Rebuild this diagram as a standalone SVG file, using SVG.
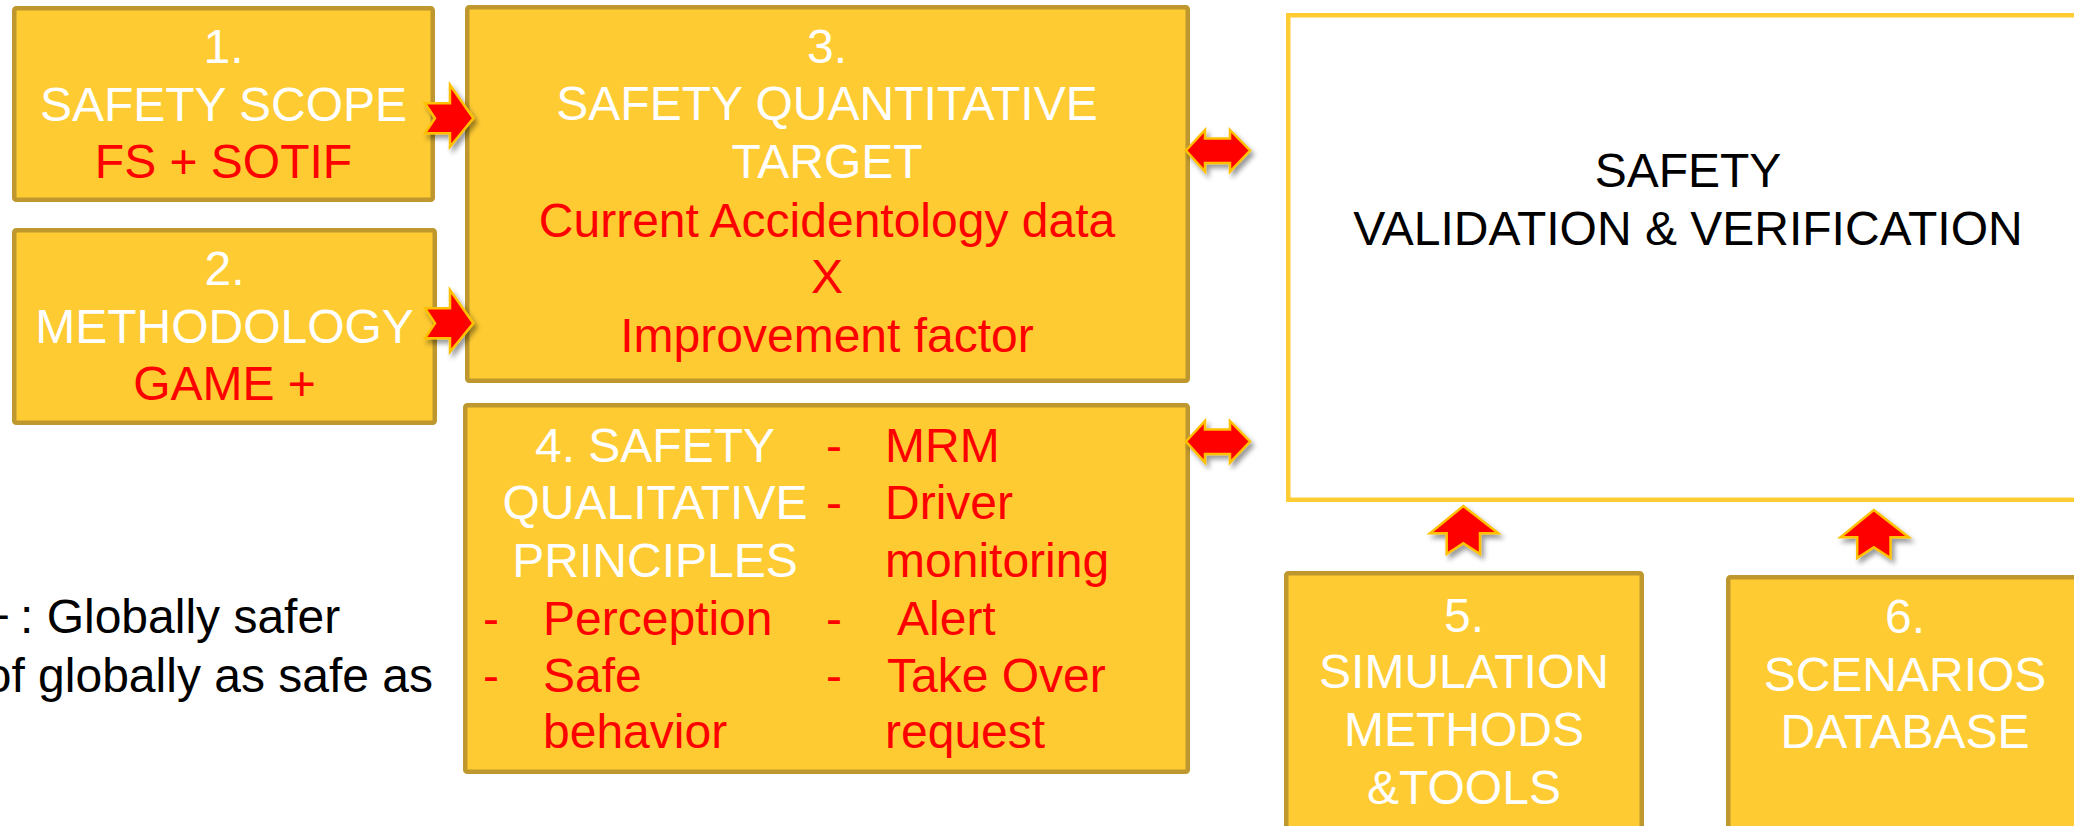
<svg xmlns="http://www.w3.org/2000/svg" width="2074" height="826" viewBox="0 0 2074 826">
<style>
.box{fill:#FECB33;stroke:#BE982E;stroke-width:4.5}
.vv{fill:#FFFFFF;stroke:#FFCC33;stroke-width:4.5}
text{font-family:"Liberation Sans",Arial,sans-serif;font-size:48px}
.w{fill:#FFFFFF}
.r{fill:#FF0000}
.k{fill:#000000}
.c{text-anchor:middle}
.arr{fill:#FF0000;stroke:#FFC000;stroke-width:2.5;stroke-linejoin:miter;filter:url(#sh)}
</style>
<defs>
<filter id="sh" x="-30%" y="-30%" width="170%" height="170%">
<feDropShadow dx="3" dy="4" stdDeviation="2.5" flood-color="#000000" flood-opacity="0.4"/>
</filter>
</defs>
<rect width="2074" height="826" fill="#FFFFFF"/>

<g id="note">
<text class="k" y="633"><tspan x="-18">+</tspan><tspan x="20">: Globally safer</tspan></text>
<text class="k" x="433" y="692" text-anchor="end">of globally as safe as</text>
</g>

<g id="n1">
<rect class="box" x="14.25" y="8.25" width="418.5" height="191.5" rx="2"/>
<text class="w c" x="223.5" y="63">1.</text>
<text class="w c" x="223.5" y="121">SAFETY SCOPE</text>
<text class="r c" x="223.5" y="178">FS + SOTIF</text>
</g>

<g id="n2">
<rect class="box" x="14.25" y="230.25" width="420.5" height="192.5" rx="2"/>
<text class="w c" x="224.5" y="285">2.</text>
<text class="w c" x="224.5" y="343">METHODOLOGY</text>
<text class="r c" x="224.5" y="400">GAME +</text>
</g>

<g id="n3">
<rect class="box" x="467.25" y="7.25" width="720.5" height="373.5" rx="2"/>
<text class="w c" x="827" y="63">3.</text>
<text class="w c" x="827" y="120">SAFETY QUANTITATIVE</text>
<text class="w c" x="827" y="178">TARGET</text>
<text class="r c" x="827" y="237">Current Accidentology data</text>
<text class="r c" x="827" y="293">X</text>
<text class="r c" x="827" y="352">Improvement factor</text>
</g>

<g id="n4">
<rect class="box" x="465.25" y="405.25" width="722.5" height="366.5" rx="2"/>
<text class="w c" x="655" y="462">4. SAFETY</text>
<text class="w c" x="655" y="519">QUALITATIVE</text>
<text class="w c" x="655" y="577">PRINCIPLES</text>
<text class="r" x="483" y="635">-</text>
<text class="r" x="543" y="635">Perception</text>
<text class="r" x="483" y="692">-</text>
<text class="r" x="543" y="692">Safe</text>
<text class="r" x="543" y="748">behavior</text>
<text class="r" x="826" y="462">-</text>
<text class="r" x="885" y="462">MRM</text>
<text class="r" x="826" y="519">-</text>
<text class="r" x="885" y="519">Driver</text>
<text class="r" x="885" y="577">monitoring</text>
<text class="r" x="826" y="635">-</text>
<text class="r" x="897" y="635">Alert</text>
<text class="r" x="826" y="692">-</text>
<text class="r" x="887" y="692">Take Over</text>
<text class="r" x="885" y="748">request</text>
</g>

<g id="vv">
<rect class="vv" x="1288.25" y="15.25" width="820" height="484.5"/>
<text class="k c" x="1688" y="187">SAFETY</text>
<text class="k c" x="1688" y="245">VALIDATION &amp; VERIFICATION</text>
</g>

<g id="n5">
<rect class="box" x="1286.25" y="573.25" width="355.5" height="270" rx="2"/>
<text class="w c" x="1464" y="632">5.</text>
<text class="w c" x="1464" y="688">SIMULATION</text>
<text class="w c" x="1464" y="746">METHODS</text>
<text class="w c" x="1464" y="804">&amp;TOOLS</text>
</g>

<g id="n6">
<rect class="box" x="1728.25" y="577.25" width="380" height="270" rx="2"/>
<text class="w c" x="1905" y="633">6.</text>
<text class="w c" x="1905" y="691">SCENARIOS</text>
<text class="w c" x="1905" y="748">DATABASE</text>
</g>

<g id="connectors">
<path id="a1" class="arr" d="M425,103.3 L450,103.3 L450,85 L473.3,118.3 L450,146.7 L450,133.3 L425,133.3 L435,118.3 Z"/>
<path id="a2" class="arr" transform="translate(0,205)" d="M425,103.3 L450,103.3 L450,85 L473.3,118.3 L450,146.7 L450,133.3 L425,133.3 L435,118.3 Z"/>
<path id="a3" class="arr" d="M1186,150.5 L1205,130 L1205,138.5 L1230,138.5 L1230,130 L1250,150.5 L1230,171.5 L1230,163 L1205,163 L1205,171.5 Z"/>
<path id="a4" class="arr" transform="translate(0,291)" d="M1186,150.5 L1205,130 L1205,138.5 L1230,138.5 L1230,130 L1250,150.5 L1230,171.5 L1230,163 L1205,163 L1205,171.5 Z"/>
<path id="a5" class="arr" d="M1463.3,506 L1498.3,533.3 L1480,533.3 L1480,554 L1463.3,543.3 L1446.7,554 L1446.7,533.3 L1430,533.3 Z"/>
<path id="a6" class="arr" transform="translate(410.5,4)" d="M1463.3,506 L1498.3,533.3 L1480,533.3 L1480,554 L1463.3,543.3 L1446.7,554 L1446.7,533.3 L1430,533.3 Z"/>
</g>
</svg>
